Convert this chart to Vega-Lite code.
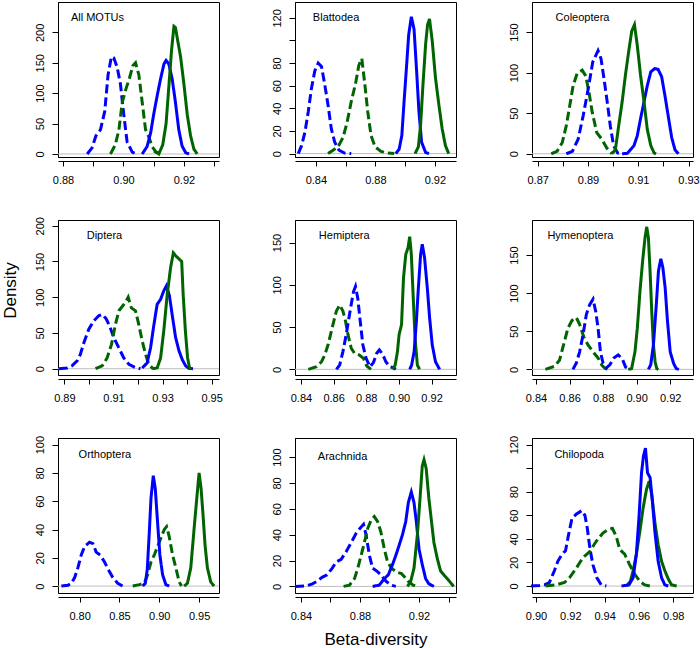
{
"$schema": "https://vega.github.io/schema/vega-lite/v6.json",
"padding": {"left": 0, "top": 1, "right": 0, "bottom": 1},
"config": {
  "font": "Liberation Sans",
  "view": {"stroke": "#000", "strokeWidth": 1},
  "axis": {"grid": false, "labelFontSize": 11, "labelColor": "#000", "tickColor": "#000", "domainColor": "#000", "titleFontSize": 17, "titleFontWeight": "normal", "titleColor": "#000", "labelOverlap": false},
  "axisX": {"offset": 4, "tickSize": 5, "labelPadding": 8, "labelFlush": false, "titlePadding": 10},
  "axisY": {"tickSize": 6, "labelPadding": 7, "labelAngle": -90, "labelAlign": "center", "labelBaseline": "bottom", "titlePadding": 15},
  "line": {"strokeCap": "butt"}
},
"datasets": {
"p1": [
{"s":"bd","x":0.888,"y":0},{"s":"bd","x":0.8896,"y":10},{"s":"bd","x":0.8909,"y":30},{"s":"bd","x":0.8924,"y":40},{"s":"bd","x":0.8938,"y":70},{"s":"bd","x":0.8949,"y":130},{"s":"bd","x":0.8960,"y":160},{"s":"bd","x":0.8968,"y":158},{"s":"bd","x":0.8979,"y":143},{"s":"bd","x":0.8990,"y":115},{"s":"bd","x":0.9001,"y":65},{"s":"bd","x":0.9012,"y":20},{"s":"bd","x":0.9029,"y":3},{"s":"bd","x":0.9045,"y":0},
{"s":"gd","x":0.8957,"y":0},{"s":"gd","x":0.8973,"y":15},{"s":"gd","x":0.8985,"y":40},{"s":"gd","x":0.8996,"y":85},{"s":"gd","x":0.9007,"y":105},{"s":"gd","x":0.9020,"y":125},{"s":"gd","x":0.9031,"y":145},{"s":"gd","x":0.9040,"y":150},{"s":"gd","x":0.9051,"y":130},{"s":"gd","x":0.9062,"y":85},{"s":"gd","x":0.9073,"y":40},{"s":"gd","x":0.9084,"y":28},{"s":"gd","x":0.9095,"y":12},{"s":"gd","x":0.9108,"y":3},{"s":"gd","x":0.9123,"y":0},
{"s":"bs","x":0.9062,"y":0},{"s":"bs","x":0.9078,"y":12},{"s":"bs","x":0.9090,"y":35},{"s":"bs","x":0.9101,"y":68},{"s":"bs","x":0.9112,"y":97},{"s":"bs","x":0.9123,"y":124},{"s":"bs","x":0.9134,"y":148},{"s":"bs","x":0.9141,"y":154},{"s":"bs","x":0.9150,"y":148},{"s":"bs","x":0.9161,"y":124},{"s":"bs","x":0.9172,"y":85},{"s":"bs","x":0.9183,"y":40},{"s":"bs","x":0.9194,"y":13},{"s":"bs","x":0.9206,"y":2},{"s":"bs","x":0.9217,"y":0},
{"s":"gs","x":0.9101,"y":5},{"s":"gs","x":0.9117,"y":0},{"s":"gs","x":0.9130,"y":15},{"s":"gs","x":0.9141,"y":50},{"s":"gs","x":0.9150,"y":110},{"s":"gs","x":0.9159,"y":170},{"s":"gs","x":0.9167,"y":210},{"s":"gs","x":0.9172,"y":208},{"s":"gs","x":0.9180,"y":185},{"s":"gs","x":0.9189,"y":160},{"s":"gs","x":0.9200,"y":115},{"s":"gs","x":0.9211,"y":65},{"s":"gs","x":0.9222,"y":30},{"s":"gs","x":0.9233,"y":8},{"s":"gs","x":0.9244,"y":0}
],
"p2": [
{"s":"bd","x":0.8282,"y":0},{"s":"bd","x":0.8304,"y":7},{"s":"bd","x":0.8327,"y":19},{"s":"bd","x":0.8349,"y":37},{"s":"bd","x":0.8371,"y":58},{"s":"bd","x":0.8393,"y":73},{"s":"bd","x":0.8416,"y":80},{"s":"bd","x":0.8438,"y":77},{"s":"bd","x":0.8460,"y":61},{"s":"bd","x":0.8482,"y":43},{"s":"bd","x":0.8504,"y":22},{"s":"bd","x":0.8527,"y":10},{"s":"bd","x":0.8556,"y":3},{"s":"bd","x":0.8593,"y":0.5},{"s":"bd","x":0.8638,"y":0},
{"s":"gd","x":0.8482,"y":0},{"s":"gd","x":0.8516,"y":3},{"s":"gd","x":0.8549,"y":6},{"s":"gd","x":0.8582,"y":14},{"s":"gd","x":0.8609,"y":27},{"s":"gd","x":0.8638,"y":46},{"s":"gd","x":0.8667,"y":62},{"s":"gd","x":0.8689,"y":78},{"s":"gd","x":0.8709,"y":84},{"s":"gd","x":0.8727,"y":64},{"s":"gd","x":0.8749,"y":37},{"s":"gd","x":0.8771,"y":16},{"s":"gd","x":0.8798,"y":6},{"s":"gd","x":0.8838,"y":2},{"s":"gd","x":0.8882,"y":0.5},{"s":"gd","x":0.8927,"y":0},
{"s":"bs","x":0.8938,"y":0},{"s":"bs","x":0.8960,"y":4},{"s":"bs","x":0.8978,"y":16},{"s":"bs","x":0.8993,"y":46},{"s":"bs","x":0.9009,"y":76},{"s":"bs","x":0.9024,"y":105},{"s":"bs","x":0.9042,"y":121},{"s":"bs","x":0.9060,"y":110},{"s":"bs","x":0.9076,"y":76},{"s":"bs","x":0.9093,"y":37},{"s":"bs","x":0.9111,"y":10},{"s":"bs","x":0.9138,"y":1},{"s":"bs","x":0.9160,"y":0},
{"s":"gs","x":0.9067,"y":0},{"s":"gs","x":0.9089,"y":6},{"s":"gs","x":0.9104,"y":25},{"s":"gs","x":0.9120,"y":61},{"s":"gs","x":0.9138,"y":97},{"s":"gs","x":0.9151,"y":114},{"s":"gs","x":0.9164,"y":119},{"s":"gs","x":0.9182,"y":100},{"s":"gs","x":0.9204,"y":67},{"s":"gs","x":0.9227,"y":43},{"s":"gs","x":0.9249,"y":22},{"s":"gs","x":0.9271,"y":7},{"s":"gs","x":0.9293,"y":0}
],
"p3": [
{"s":"gd","x":0.8754,"y":0},{"s":"gd","x":0.8777,"y":3},{"s":"gd","x":0.8798,"y":14},{"s":"gd","x":0.8814,"y":35},{"s":"gd","x":0.8828,"y":60},{"s":"gd","x":0.8841,"y":84},{"s":"gd","x":0.8857,"y":99},{"s":"gd","x":0.8877,"y":103},{"s":"gd","x":0.8891,"y":96},{"s":"gd","x":0.8904,"y":76},{"s":"gd","x":0.8917,"y":51},{"s":"gd","x":0.8935,"y":26},{"s":"gd","x":0.8955,"y":18},{"s":"gd","x":0.8975,"y":7},{"s":"gd","x":0.8995,"y":0},
{"s":"bd","x":0.8814,"y":0},{"s":"bd","x":0.8838,"y":3},{"s":"bd","x":0.8861,"y":18},{"s":"bd","x":0.8881,"y":47},{"s":"bd","x":0.8901,"y":80},{"s":"bd","x":0.8919,"y":113},{"s":"bd","x":0.8940,"y":127},{"s":"bd","x":0.8952,"y":117},{"s":"bd","x":0.8964,"y":92},{"s":"bd","x":0.8977,"y":63},{"s":"bd","x":0.8989,"y":34},{"s":"bd","x":0.9002,"y":10},{"s":"bd","x":0.9018,"y":1},{"s":"bd","x":0.9036,"y":0},
{"s":"bs","x":0.9036,"y":0},{"s":"bs","x":0.9056,"y":0.5},{"s":"bs","x":0.9069,"y":5},{"s":"bs","x":0.9083,"y":10},{"s":"bs","x":0.9096,"y":22},{"s":"bs","x":0.9109,"y":43},{"s":"bs","x":0.9123,"y":64},{"s":"bs","x":0.9136,"y":84},{"s":"bs","x":0.9150,"y":101},{"s":"bs","x":0.9166,"y":105},{"s":"bs","x":0.9179,"y":104},{"s":"bs","x":0.9193,"y":95},{"s":"bs","x":0.9206,"y":72},{"s":"bs","x":0.9220,"y":45},{"s":"bs","x":0.9233,"y":20},{"s":"bs","x":0.9246,"y":5},{"s":"bs","x":0.9260,"y":0},
{"s":"gs","x":0.8995,"y":0},{"s":"gs","x":0.9009,"y":5},{"s":"gs","x":0.9022,"y":34},{"s":"gs","x":0.9036,"y":64},{"s":"gs","x":0.9049,"y":97},{"s":"gs","x":0.9062,"y":126},{"s":"gs","x":0.9074,"y":151},{"s":"gs","x":0.9085,"y":159},{"s":"gs","x":0.9096,"y":134},{"s":"gs","x":0.9109,"y":97},{"s":"gs","x":0.9123,"y":64},{"s":"gs","x":0.9136,"y":30},{"s":"gs","x":0.9150,"y":10},{"s":"gs","x":0.9163,"y":1},{"s":"gs","x":0.9171,"y":0}
],
"p4": [
{"s":"bd","x":0.8877,"y":0},{"s":"bd","x":0.8911,"y":1},{"s":"bd","x":0.8931,"y":4},{"s":"bd","x":0.8952,"y":11},{"s":"bd","x":0.8965,"y":20},{"s":"bd","x":0.8979,"y":36},{"s":"bd","x":0.8999,"y":55},{"s":"bd","x":0.9020,"y":67},{"s":"bd","x":0.9040,"y":74},{"s":"bd","x":0.9054,"y":76},{"s":"bd","x":0.9070,"y":70},{"s":"bd","x":0.9084,"y":60},{"s":"bd","x":0.9101,"y":44},{"s":"bd","x":0.9122,"y":29},{"s":"bd","x":0.9142,"y":15},{"s":"bd","x":0.9163,"y":6},{"s":"bd","x":0.9187,"y":2},{"s":"bd","x":0.9210,"y":0},
{"s":"gd","x":0.9027,"y":0},{"s":"gd","x":0.9054,"y":4},{"s":"gd","x":0.9074,"y":15},{"s":"gd","x":0.9092,"y":34},{"s":"gd","x":0.9108,"y":62},{"s":"gd","x":0.9122,"y":81},{"s":"gd","x":0.9138,"y":88},{"s":"gd","x":0.9149,"y":93},{"s":"gd","x":0.9160,"y":100},{"s":"gd","x":0.9173,"y":85},{"s":"gd","x":0.9190,"y":81},{"s":"gd","x":0.9203,"y":62},{"s":"gd","x":0.9217,"y":39},{"s":"gd","x":0.9231,"y":20},{"s":"gd","x":0.9244,"y":6},{"s":"gd","x":0.9261,"y":0},
{"s":"bs","x":0.9217,"y":1},{"s":"bs","x":0.9237,"y":8},{"s":"bs","x":0.9251,"y":29},{"s":"bs","x":0.9265,"y":62},{"s":"bs","x":0.9278,"y":90},{"s":"bs","x":0.9292,"y":97},{"s":"bs","x":0.9305,"y":109},{"s":"bs","x":0.9316,"y":116},{"s":"bs","x":0.9328,"y":102},{"s":"bs","x":0.9339,"y":76},{"s":"bs","x":0.9353,"y":44},{"s":"bs","x":0.9367,"y":25},{"s":"bs","x":0.9380,"y":13},{"s":"bs","x":0.9394,"y":4},{"s":"bs","x":0.9407,"y":0.5},{"s":"bs","x":0.9424,"y":0},
{"s":"gs","x":0.9258,"y":0},{"s":"gs","x":0.9278,"y":1},{"s":"gs","x":0.9292,"y":15},{"s":"gs","x":0.9305,"y":53},{"s":"gs","x":0.9319,"y":104},{"s":"gs","x":0.9333,"y":142},{"s":"gs","x":0.9344,"y":162},{"s":"gs","x":0.9356,"y":157},{"s":"gs","x":0.9369,"y":153},{"s":"gs","x":0.9378,"y":150},{"s":"gs","x":0.9384,"y":104},{"s":"gs","x":0.9393,"y":53},{"s":"gs","x":0.9402,"y":15},{"s":"gs","x":0.9410,"y":1},{"s":"gs","x":0.9418,"y":0}
],
"p5": [
{"s":"gd","x":0.8445,"y":0},{"s":"gd","x":0.8495,"y":3},{"s":"gd","x":0.8526,"y":9},{"s":"gd","x":0.8546,"y":17},{"s":"gd","x":0.8566,"y":29},{"s":"gd","x":0.8596,"y":53},{"s":"gd","x":0.8617,"y":69},{"s":"gd","x":0.8637,"y":76},{"s":"gd","x":0.8657,"y":69},{"s":"gd","x":0.8673,"y":57},{"s":"gd","x":0.8688,"y":41},{"s":"gd","x":0.8708,"y":25},{"s":"gd","x":0.8728,"y":19},{"s":"gd","x":0.8758,"y":17},{"s":"gd","x":0.8783,"y":13},{"s":"gd","x":0.8803,"y":4},{"s":"gd","x":0.8829,"y":0},
{"s":"bd","x":0.8617,"y":0},{"s":"bd","x":0.8637,"y":5},{"s":"bd","x":0.8657,"y":21},{"s":"bd","x":0.8677,"y":41},{"s":"bd","x":0.8694,"y":61},{"s":"bd","x":0.8708,"y":77},{"s":"bd","x":0.8722,"y":92},{"s":"bd","x":0.8734,"y":98},{"s":"bd","x":0.8748,"y":84},{"s":"bd","x":0.8763,"y":57},{"s":"bd","x":0.8779,"y":29},{"s":"bd","x":0.8799,"y":13},{"s":"bd","x":0.8823,"y":3},{"s":"bd","x":0.8844,"y":8},{"s":"bd","x":0.8864,"y":19},{"s":"bd","x":0.8880,"y":23},{"s":"bd","x":0.8900,"y":18},{"s":"bd","x":0.8920,"y":9},{"s":"bd","x":0.8945,"y":3},{"s":"bd","x":0.8965,"y":2},{"s":"bd","x":0.8981,"y":0},
{"s":"gs","x":0.8961,"y":0},{"s":"gs","x":0.8977,"y":5},{"s":"gs","x":0.8991,"y":21},{"s":"gs","x":0.9001,"y":41},{"s":"gs","x":0.9016,"y":53},{"s":"gs","x":0.9028,"y":108},{"s":"gs","x":0.9042,"y":136},{"s":"gs","x":0.9056,"y":144},{"s":"gs","x":0.9066,"y":157},{"s":"gs","x":0.9076,"y":136},{"s":"gs","x":0.9087,"y":88},{"s":"gs","x":0.9099,"y":37},{"s":"gs","x":0.9113,"y":5},{"s":"gs","x":0.9127,"y":0},
{"s":"bs","x":0.9066,"y":0},{"s":"bs","x":0.9078,"y":5},{"s":"bs","x":0.9093,"y":21},{"s":"bs","x":0.9107,"y":57},{"s":"bs","x":0.9119,"y":96},{"s":"bs","x":0.9133,"y":136},{"s":"bs","x":0.9143,"y":148},{"s":"bs","x":0.9157,"y":132},{"s":"bs","x":0.9174,"y":96},{"s":"bs","x":0.9188,"y":61},{"s":"bs","x":0.9204,"y":29},{"s":"bs","x":0.9224,"y":9},{"s":"bs","x":0.9249,"y":0}
],
"p6": [
{"s":"gd","x":0.8456,"y":0},{"s":"gd","x":0.8510,"y":4},{"s":"gd","x":0.8540,"y":12},{"s":"gd","x":0.8564,"y":32},{"s":"gd","x":0.8590,"y":54},{"s":"gd","x":0.8614,"y":64},{"s":"gd","x":0.8640,"y":68},{"s":"gd","x":0.8660,"y":59},{"s":"gd","x":0.8684,"y":43},{"s":"gd","x":0.8710,"y":32},{"s":"gd","x":0.8740,"y":23},{"s":"gd","x":0.8770,"y":15},{"s":"gd","x":0.8794,"y":5},{"s":"gd","x":0.8814,"y":1},{"s":"gd","x":0.8836,"y":0},
{"s":"bd","x":0.8620,"y":0},{"s":"bd","x":0.8640,"y":8},{"s":"bd","x":0.8660,"y":23},{"s":"bd","x":0.8680,"y":45},{"s":"bd","x":0.8700,"y":72},{"s":"bd","x":0.8720,"y":85},{"s":"bd","x":0.8740,"y":92},{"s":"bd","x":0.8756,"y":76},{"s":"bd","x":0.8770,"y":54},{"s":"bd","x":0.8784,"y":23},{"s":"bd","x":0.8800,"y":8},{"s":"bd","x":0.8820,"y":2},{"s":"bd","x":0.8840,"y":6},{"s":"bd","x":0.8864,"y":15},{"s":"bd","x":0.8890,"y":19},{"s":"bd","x":0.8914,"y":14},{"s":"bd","x":0.8934,"y":3},{"s":"bd","x":0.8960,"y":0},
{"s":"gs","x":0.8950,"y":0},{"s":"gs","x":0.8970,"y":1},{"s":"gs","x":0.8990,"y":23},{"s":"gs","x":0.9004,"y":54},{"s":"gs","x":0.9020,"y":103},{"s":"gs","x":0.9036,"y":143},{"s":"gs","x":0.9050,"y":173},{"s":"gs","x":0.9060,"y":187},{"s":"gs","x":0.9070,"y":173},{"s":"gs","x":0.9080,"y":129},{"s":"gs","x":0.9090,"y":76},{"s":"gs","x":0.9100,"y":32},{"s":"gs","x":0.9110,"y":10},{"s":"gs","x":0.9120,"y":1},{"s":"gs","x":0.9130,"y":0},
{"s":"bs","x":0.9070,"y":0},{"s":"bs","x":0.9084,"y":6},{"s":"bs","x":0.9100,"y":32},{"s":"bs","x":0.9116,"y":81},{"s":"bs","x":0.9130,"y":129},{"s":"bs","x":0.9144,"y":145},{"s":"bs","x":0.9156,"y":134},{"s":"bs","x":0.9170,"y":107},{"s":"bs","x":0.9184,"y":63},{"s":"bs","x":0.9200,"y":23},{"s":"bs","x":0.9220,"y":8},{"s":"bs","x":0.9236,"y":1},{"s":"bs","x":0.9252,"y":0}
],
"p7": [
{"s":"bd","x":0.7771,"y":0},{"s":"bd","x":0.7854,"y":0.5},{"s":"bd","x":0.7896,"y":2},{"s":"bd","x":0.7938,"y":6},{"s":"bd","x":0.7979,"y":13},{"s":"bd","x":0.8021,"y":22},{"s":"bd","x":0.8063,"y":28},{"s":"bd","x":0.8125,"y":31},{"s":"bd","x":0.8167,"y":30},{"s":"bd","x":0.8208,"y":24},{"s":"bd","x":0.8258,"y":22},{"s":"bd","x":0.8313,"y":17},{"s":"bd","x":0.8367,"y":11},{"s":"bd","x":0.8417,"y":6},{"s":"bd","x":0.8479,"y":2},{"s":"bd","x":0.8542,"y":0},
{"s":"gd","x":0.8667,"y":0},{"s":"gd","x":0.8750,"y":1},{"s":"gd","x":0.8813,"y":2},{"s":"gd","x":0.8854,"y":8},{"s":"gd","x":0.8896,"y":17},{"s":"gd","x":0.8938,"y":22},{"s":"gd","x":0.8979,"y":28},{"s":"gd","x":0.9021,"y":34},{"s":"gd","x":0.9063,"y":40},{"s":"gd","x":0.9092,"y":42},{"s":"gd","x":0.9125,"y":35},{"s":"gd","x":0.9167,"y":22},{"s":"gd","x":0.9208,"y":13},{"s":"gd","x":0.9250,"y":3},{"s":"gd","x":0.9279,"y":0},
{"s":"bs","x":0.8792,"y":0},{"s":"bs","x":0.8825,"y":2},{"s":"bs","x":0.8850,"y":12},{"s":"bs","x":0.8875,"y":38},{"s":"bs","x":0.8896,"y":62},{"s":"bs","x":0.8925,"y":78},{"s":"bs","x":0.8950,"y":69},{"s":"bs","x":0.8979,"y":45},{"s":"bs","x":0.9008,"y":22},{"s":"bs","x":0.9042,"y":8},{"s":"bs","x":0.9083,"y":1},{"s":"bs","x":0.9125,"y":0},
{"s":"gs","x":0.9313,"y":0},{"s":"gs","x":0.9354,"y":2},{"s":"gs","x":0.9396,"y":13},{"s":"gs","x":0.9438,"y":41},{"s":"gs","x":0.9471,"y":62},{"s":"gs","x":0.9500,"y":80},{"s":"gs","x":0.9525,"y":69},{"s":"gs","x":0.9550,"y":50},{"s":"gs","x":0.9575,"y":29},{"s":"gs","x":0.9604,"y":13},{"s":"gs","x":0.9646,"y":3},{"s":"gs","x":0.9688,"y":0}
],
"p8": [
{"s":"bd","x":0.8360,"y":0},{"s":"bd","x":0.8438,"y":0.5},{"s":"bd","x":0.8478,"y":2},{"s":"bd","x":0.8510,"y":4},{"s":"bd","x":0.8543,"y":7},{"s":"bd","x":0.8577,"y":9},{"s":"bd","x":0.8611,"y":14},{"s":"bd","x":0.8640,"y":19},{"s":"bd","x":0.8673,"y":21},{"s":"bd","x":0.8707,"y":27},{"s":"bd","x":0.8741,"y":34},{"s":"bd","x":0.8774,"y":41},{"s":"bd","x":0.8801,"y":45},{"s":"bd","x":0.8824,"y":48},{"s":"bd","x":0.8841,"y":40},{"s":"bd","x":0.8864,"y":24},{"s":"bd","x":0.8886,"y":14},{"s":"bd","x":0.8913,"y":12},{"s":"bd","x":0.8942,"y":9},{"s":"bd","x":0.8976,"y":4},{"s":"bd","x":0.9010,"y":1},{"s":"bd","x":0.9043,"y":0},
{"s":"gd","x":0.8689,"y":0},{"s":"gd","x":0.8729,"y":1},{"s":"gd","x":0.8763,"y":6},{"s":"gd","x":0.8785,"y":14},{"s":"gd","x":0.8808,"y":24},{"s":"gd","x":0.8830,"y":34},{"s":"gd","x":0.8853,"y":45},{"s":"gd","x":0.8875,"y":51},{"s":"gd","x":0.8897,"y":54},{"s":"gd","x":0.8920,"y":50},{"s":"gd","x":0.8942,"y":42},{"s":"gd","x":0.8965,"y":29},{"s":"gd","x":0.8987,"y":19},{"s":"gd","x":0.9014,"y":14},{"s":"gd","x":0.9048,"y":11},{"s":"gd","x":0.9081,"y":10},{"s":"gd","x":0.9104,"y":7},{"s":"gd","x":0.9126,"y":4},{"s":"gd","x":0.9160,"y":1},{"s":"gd","x":0.9193,"y":0},
{"s":"bs","x":0.8886,"y":0},{"s":"bs","x":0.8931,"y":1},{"s":"bs","x":0.8965,"y":6},{"s":"bs","x":0.8992,"y":9},{"s":"bs","x":0.9021,"y":17},{"s":"bs","x":0.9043,"y":24},{"s":"bs","x":0.9066,"y":32},{"s":"bs","x":0.9088,"y":40},{"s":"bs","x":0.9110,"y":50},{"s":"bs","x":0.9128,"y":65},{"s":"bs","x":0.9148,"y":73},{"s":"bs","x":0.9166,"y":65},{"s":"bs","x":0.9182,"y":50},{"s":"bs","x":0.9200,"y":29},{"s":"bs","x":0.9222,"y":17},{"s":"bs","x":0.9245,"y":6},{"s":"bs","x":0.9267,"y":2},{"s":"bs","x":0.9301,"y":0},
{"s":"gs","x":0.9122,"y":0},{"s":"gs","x":0.9144,"y":4},{"s":"gs","x":0.9166,"y":14},{"s":"gs","x":0.9189,"y":40},{"s":"gs","x":0.9207,"y":68},{"s":"gs","x":0.9222,"y":93},{"s":"gs","x":0.9234,"y":98},{"s":"gs","x":0.9249,"y":91},{"s":"gs","x":0.9267,"y":68},{"s":"gs","x":0.9285,"y":50},{"s":"gs","x":0.9301,"y":34},{"s":"gs","x":0.9323,"y":22},{"s":"gs","x":0.9346,"y":12},{"s":"gs","x":0.9375,"y":8},{"s":"gs","x":0.9406,"y":4},{"s":"gs","x":0.9435,"y":0}
],
"p9": [
{"s":"bd","x":0.8971,"y":0},{"s":"bd","x":0.9020,"y":0.5},{"s":"bd","x":0.9049,"y":1},{"s":"bd","x":0.9078,"y":3},{"s":"bd","x":0.9107,"y":13},{"s":"bd","x":0.9127,"y":21},{"s":"bd","x":0.9152,"y":27},{"s":"bd","x":0.9172,"y":30},{"s":"bd","x":0.9189,"y":43},{"s":"bd","x":0.9209,"y":57},{"s":"bd","x":0.9234,"y":61},{"s":"bd","x":0.9267,"y":64},{"s":"bd","x":0.9285,"y":60},{"s":"bd","x":0.9299,"y":49},{"s":"bd","x":0.9314,"y":32},{"s":"bd","x":0.9332,"y":18},{"s":"bd","x":0.9355,"y":7},{"s":"bd","x":0.9380,"y":1},{"s":"bd","x":0.9410,"y":0},
{"s":"gd","x":0.9055,"y":0},{"s":"gd","x":0.9117,"y":1},{"s":"gd","x":0.9166,"y":3},{"s":"gd","x":0.9195,"y":7},{"s":"gd","x":0.9234,"y":15},{"s":"gd","x":0.9273,"y":24},{"s":"gd","x":0.9312,"y":29},{"s":"gd","x":0.9351,"y":38},{"s":"gd","x":0.9390,"y":45},{"s":"gd","x":0.9420,"y":48},{"s":"gd","x":0.9445,"y":49},{"s":"gd","x":0.9468,"y":42},{"s":"gd","x":0.9488,"y":31},{"s":"gd","x":0.9517,"y":27},{"s":"gd","x":0.9546,"y":18},{"s":"gd","x":0.9576,"y":10},{"s":"gd","x":0.9605,"y":4},{"s":"gd","x":0.9634,"y":1},{"s":"gd","x":0.9667,"y":0},
{"s":"gs","x":0.9527,"y":0},{"s":"gs","x":0.9550,"y":4},{"s":"gs","x":0.9566,"y":13},{"s":"gs","x":0.9585,"y":27},{"s":"gs","x":0.9605,"y":46},{"s":"gs","x":0.9624,"y":66},{"s":"gs","x":0.9644,"y":82},{"s":"gs","x":0.9660,"y":89},{"s":"gs","x":0.9675,"y":77},{"s":"gs","x":0.9693,"y":54},{"s":"gs","x":0.9712,"y":35},{"s":"gs","x":0.9732,"y":21},{"s":"gs","x":0.9751,"y":13},{"s":"gs","x":0.9771,"y":6},{"s":"gs","x":0.9790,"y":1},{"s":"gs","x":0.9820,"y":0},
{"s":"bs","x":0.9498,"y":0},{"s":"bs","x":0.9542,"y":1},{"s":"bs","x":0.9566,"y":7},{"s":"bs","x":0.9585,"y":27},{"s":"bs","x":0.9601,"y":60},{"s":"bs","x":0.9615,"y":96},{"s":"bs","x":0.9626,"y":110},{"s":"bs","x":0.9638,"y":117},{"s":"bs","x":0.9650,"y":96},{"s":"bs","x":0.9665,"y":92},{"s":"bs","x":0.9679,"y":71},{"s":"bs","x":0.9693,"y":46},{"s":"bs","x":0.9712,"y":21},{"s":"bs","x":0.9732,"y":7},{"s":"bs","x":0.9751,"y":1},{"s":"bs","x":0.9771,"y":0}
]
},
"columns": 3,
"spacing": {"row": 63, "column": 76},
"bounds": "flush",
"resolve": {"scale": {"x": "independent", "y": "independent"}},
"concat": [
{"width": 161, "height": 155, "data": {"name": "p1"}, "layer": [
  {"data": {"values": [{}]}, "mark": {"type": "rule", "color": "#BEBEBE", "strokeWidth": 1}, "encoding": {"y": {"datum": 0}}},
  {"mark": {"type": "line"}, "encoding": {
    "x": {"field": "x", "type": "quantitative", "scale": {"domain": [0.87834, 0.93161], "nice": false, "zero": false}, "axis": {"values": [0.88, 0.89, 0.90, 0.91, 0.92, 0.93], "tickCount": 50, "labelOverlap": false, "labelExpr": "round(datum.value*100)%2==0 ? format(datum.value,'.2f') : ''", "title": null}},
    "y": {"field": "y", "type": "quantitative", "scale": {"domain": [-5, 250], "nice": false, "zero": false}, "axis": {"values": [0, 50, 100, 150, 200], "tickCount": 50, "labelOverlap": false, "labelExpr": "format(datum.value,'d')", "title": null}},
    "color": {"field": "s", "type": "nominal", "scale": {"domain": ["bd", "gd", "bs", "gs"], "range": ["#0000FF", "#006400", "#0000FF", "#006400"]}, "legend": null},
    "strokeDash": {"field": "s", "type": "nominal", "scale": {"domain": ["bd", "gd", "bs", "gs"], "range": [[9, 4], [9, 4], [1, 0], [1, 0]]}, "legend": null},
    "strokeWidth": {"field": "s", "type": "nominal", "scale": {"domain": ["bd", "gd", "bs", "gs"], "range": [3, 3, 4, 4]}, "legend": null}}},
  {"data": {"values": [{}]}, "mark": {"type": "text", "align": "left", "baseline": "middle", "fontSize": 11, "text": "All MOTUs"}, "encoding": {"x": {"datum": 0.8826}, "y": {"datum": 223}}}
]},
{"width": 161, "height": 155, "data": {"name": "p2"}, "layer": [
  {"data": {"values": [{}]}, "mark": {"type": "rule", "color": "#BEBEBE", "strokeWidth": 1}, "encoding": {"y": {"datum": 0}}},
  {"mark": {"type": "line"}, "encoding": {
    "x": {"field": "x", "type": "quantitative", "scale": {"domain": [0.826, 0.9342], "nice": false, "zero": false}, "axis": {"values": [0.84, 0.86, 0.88, 0.90, 0.92], "tickCount": 50, "labelOverlap": false, "labelExpr": "round(datum.value*100)%4==0 ? format(datum.value,'.2f') : ''", "title": null}},
    "y": {"field": "y", "type": "quantitative", "scale": {"domain": [-3, 134], "nice": false, "zero": false}, "axis": {"values": [0, 20, 40, 60, 80, 100, 120], "tickCount": 50, "labelOverlap": false, "labelExpr": "datum.value==100 ? '' : format(datum.value,'d')", "title": null}},
    "color": {"field": "s", "type": "nominal", "scale": {"domain": ["bd", "gd", "bs", "gs"], "range": ["#0000FF", "#006400", "#0000FF", "#006400"]}, "legend": null},
    "strokeDash": {"field": "s", "type": "nominal", "scale": {"domain": ["bd", "gd", "bs", "gs"], "range": [[9, 4], [9, 4], [1, 0], [1, 0]]}, "legend": null},
    "strokeWidth": {"field": "s", "type": "nominal", "scale": {"domain": ["bd", "gd", "bs", "gs"], "range": [3, 3, 4, 4]}, "legend": null}}},
  {"data": {"values": [{}]}, "mark": {"type": "text", "align": "left", "baseline": "middle", "fontSize": 11, "text": "Blattodea"}, "encoding": {"x": {"datum": 0.838}, "y": {"datum": 120}}}
]},
{"width": 161, "height": 155, "data": {"name": "p3"}, "layer": [
  {"data": {"values": [{}]}, "mark": {"type": "rule", "color": "#BEBEBE", "strokeWidth": 1}, "encoding": {"y": {"datum": 0}}},
  {"mark": {"type": "line"}, "encoding": {
    "x": {"field": "x", "type": "quantitative", "scale": {"domain": [0.86774, 0.93178], "nice": false, "zero": false}, "axis": {"values": [0.87, 0.88, 0.89, 0.90, 0.91, 0.92, 0.93], "tickCount": 50, "labelOverlap": false, "labelExpr": "round(datum.value*100)%2==1 ? format(datum.value,'.2f') : ''", "title": null}},
    "y": {"field": "y", "type": "quantitative", "scale": {"domain": [-4, 187], "nice": false, "zero": false}, "axis": {"values": [0, 50, 100, 150], "tickCount": 50, "labelOverlap": false, "labelExpr": "format(datum.value,'d')", "title": null}},
    "color": {"field": "s", "type": "nominal", "scale": {"domain": ["bd", "gd", "bs", "gs"], "range": ["#0000FF", "#006400", "#0000FF", "#006400"]}, "legend": null},
    "strokeDash": {"field": "s", "type": "nominal", "scale": {"domain": ["bd", "gd", "bs", "gs"], "range": [[9, 4], [9, 4], [1, 0], [1, 0]]}, "legend": null},
    "strokeWidth": {"field": "s", "type": "nominal", "scale": {"domain": ["bd", "gd", "bs", "gs"], "range": [3, 3, 4, 4]}, "legend": null}}},
  {"data": {"values": [{}]}, "mark": {"type": "text", "align": "left", "baseline": "middle", "fontSize": 11, "text": "Coleoptera"}, "encoding": {"x": {"datum": 0.87713}, "y": {"datum": 167}}}
]},
{"width": 161, "height": 155, "data": {"name": "p4"}, "layer": [
  {"data": {"values": [{}]}, "mark": {"type": "rule", "color": "#BEBEBE", "strokeWidth": 1}, "encoding": {"y": {"datum": 0}}},
  {"mark": {"type": "line"}, "encoding": {
    "x": {"field": "x", "type": "quantitative", "scale": {"domain": [0.8874, 0.9530], "nice": false, "zero": false}, "axis": {"values": [0.89, 0.90, 0.91, 0.92, 0.93, 0.94, 0.95], "tickCount": 50, "labelOverlap": false, "labelExpr": "round(datum.value*100)%2==1 ? format(datum.value,'.2f') : ''", "title": null}},
    "y": {"field": "y", "type": "quantitative", "scale": {"domain": [-8.8, 208], "nice": false, "zero": false}, "axis": {"values": [0, 50, 100, 150, 200], "tickCount": 50, "labelOverlap": false, "labelExpr": "format(datum.value,'d')", "title": "Density", "titleY": 70}},
    "color": {"field": "s", "type": "nominal", "scale": {"domain": ["bd", "gd", "bs", "gs"], "range": ["#0000FF", "#006400", "#0000FF", "#006400"]}, "legend": null},
    "strokeDash": {"field": "s", "type": "nominal", "scale": {"domain": ["bd", "gd", "bs", "gs"], "range": [[9, 4], [9, 4], [1, 0], [1, 0]]}, "legend": null},
    "strokeWidth": {"field": "s", "type": "nominal", "scale": {"domain": ["bd", "gd", "bs", "gs"], "range": [3, 3, 4, 4]}, "legend": null}}},
  {"data": {"values": [{}]}, "mark": {"type": "text", "align": "left", "baseline": "middle", "fontSize": 11, "text": "Diptera"}, "encoding": {"x": {"datum": 0.8991}, "y": {"datum": 186}}}
]},
{"width": 161, "height": 155, "data": {"name": "p5"}, "layer": [
  {"data": {"values": [{}]}, "mark": {"type": "rule", "color": "#BEBEBE", "strokeWidth": 1}, "encoding": {"y": {"datum": 0}}},
  {"mark": {"type": "line"}, "encoding": {
    "x": {"field": "x", "type": "quantitative", "scale": {"domain": [0.83635, 0.93496], "nice": false, "zero": false}, "axis": {"values": [0.84, 0.86, 0.88, 0.90, 0.92], "tickCount": 50, "labelOverlap": false, "labelExpr": "format(datum.value,'.2f')", "title": null}},
    "y": {"field": "y", "type": "quantitative", "scale": {"domain": [-6.7, 176.7], "nice": false, "zero": false}, "axis": {"values": [0, 50, 100, 150], "tickCount": 50, "labelOverlap": false, "labelExpr": "format(datum.value,'d')", "title": null}},
    "color": {"field": "s", "type": "nominal", "scale": {"domain": ["bd", "gd", "bs", "gs"], "range": ["#0000FF", "#006400", "#0000FF", "#006400"]}, "legend": null},
    "strokeDash": {"field": "s", "type": "nominal", "scale": {"domain": ["bd", "gd", "bs", "gs"], "range": [[9, 4], [9, 4], [1, 0], [1, 0]]}, "legend": null},
    "strokeWidth": {"field": "s", "type": "nominal", "scale": {"domain": ["bd", "gd", "bs", "gs"], "range": [3, 3, 4, 4]}, "legend": null}}},
  {"data": {"values": [{}]}, "mark": {"type": "text", "align": "left", "baseline": "middle", "fontSize": 11, "text": "Hemiptera"}, "encoding": {"x": {"datum": 0.85094}, "y": {"datum": 158}}}
]},
{"width": 161, "height": 155, "data": {"name": "p6"}, "layer": [
  {"data": {"values": [{}]}, "mark": {"type": "rule", "color": "#BEBEBE", "strokeWidth": 1}, "encoding": {"y": {"datum": 0}}},
  {"mark": {"type": "line"}, "encoding": {
    "x": {"field": "x", "type": "quantitative", "scale": {"domain": [0.8376, 0.9336], "nice": false, "zero": false}, "axis": {"values": [0.84, 0.86, 0.88, 0.90, 0.92], "tickCount": 50, "labelOverlap": false, "labelExpr": "format(datum.value,'.2f')", "title": null}},
    "y": {"field": "y", "type": "quantitative", "scale": {"domain": [-7.4, 196], "nice": false, "zero": false}, "axis": {"values": [0, 50, 100, 150], "tickCount": 50, "labelOverlap": false, "labelExpr": "format(datum.value,'d')", "title": null}},
    "color": {"field": "s", "type": "nominal", "scale": {"domain": ["bd", "gd", "bs", "gs"], "range": ["#0000FF", "#006400", "#0000FF", "#006400"]}, "legend": null},
    "strokeDash": {"field": "s", "type": "nominal", "scale": {"domain": ["bd", "gd", "bs", "gs"], "range": [[9, 4], [9, 4], [1, 0], [1, 0]]}, "legend": null},
    "strokeWidth": {"field": "s", "type": "nominal", "scale": {"domain": ["bd", "gd", "bs", "gs"], "range": [3, 3, 4, 4]}, "legend": null}}},
  {"data": {"values": [{}]}, "mark": {"type": "text", "align": "left", "baseline": "middle", "fontSize": 11, "text": "Hymenoptera"}, "encoding": {"x": {"datum": 0.84678}, "y": {"datum": 175.5}}}
]},
{"width": 161, "height": 155, "data": {"name": "p7"}, "layer": [
  {"data": {"values": [{}]}, "mark": {"type": "rule", "color": "#BEBEBE", "strokeWidth": 1}, "encoding": {"y": {"datum": 0}}},
  {"mark": {"type": "line"}, "encoding": {
    "x": {"field": "x", "type": "quantitative", "scale": {"domain": [0.7729, 0.975], "nice": false, "zero": false}, "axis": {"values": [0.80, 0.85, 0.90, 0.95], "tickCount": 50, "labelOverlap": false, "labelExpr": "format(datum.value,'.2f')", "title": null}},
    "y": {"field": "y", "type": "quantitative", "scale": {"domain": [-4.9, 104.7], "nice": false, "zero": false}, "axis": {"values": [0, 20, 40, 60, 80, 100], "tickCount": 50, "labelOverlap": false, "labelExpr": "format(datum.value,'d')", "title": null}},
    "color": {"field": "s", "type": "nominal", "scale": {"domain": ["bd", "gd", "bs", "gs"], "range": ["#0000FF", "#006400", "#0000FF", "#006400"]}, "legend": null},
    "strokeDash": {"field": "s", "type": "nominal", "scale": {"domain": ["bd", "gd", "bs", "gs"], "range": [[9, 4], [9, 4], [1, 0], [1, 0]]}, "legend": null},
    "strokeWidth": {"field": "s", "type": "nominal", "scale": {"domain": ["bd", "gd", "bs", "gs"], "range": [3, 3, 4, 4]}, "legend": null}}},
  {"data": {"values": [{}]}, "mark": {"type": "text", "align": "left", "baseline": "middle", "fontSize": 11, "text": "Orthoptera"}, "encoding": {"x": {"datum": 0.79875}, "y": {"datum": 92.8}}}
]},
{"width": 161, "height": 155, "data": {"name": "p8"}, "layer": [
  {"data": {"values": [{}]}, "mark": {"type": "rule", "color": "#BEBEBE", "strokeWidth": 1}, "encoding": {"y": {"datum": 0}}},
  {"mark": {"type": "line"}, "encoding": {
    "x": {"field": "x", "type": "quantitative", "scale": {"domain": [0.83597, 0.94508], "nice": false, "zero": false}, "axis": {"values": [0.84, 0.86, 0.88, 0.90, 0.92, 0.94], "tickCount": 50, "labelOverlap": false, "labelExpr": "round(datum.value*100)%4==0 ? format(datum.value,'.2f') : ''", "title": "Beta-diversity"}},
    "y": {"field": "y", "type": "quantitative", "scale": {"domain": [-5.1, 114.8], "nice": false, "zero": false}, "axis": {"values": [0, 20, 40, 60, 80, 100], "tickCount": 50, "labelOverlap": false, "labelExpr": "format(datum.value,'d')", "title": null}},
    "color": {"field": "s", "type": "nominal", "scale": {"domain": ["bd", "gd", "bs", "gs"], "range": ["#0000FF", "#006400", "#0000FF", "#006400"]}, "legend": null},
    "strokeDash": {"field": "s", "type": "nominal", "scale": {"domain": ["bd", "gd", "bs", "gs"], "range": [[9, 4], [9, 4], [1, 0], [1, 0]]}, "legend": null},
    "strokeWidth": {"field": "s", "type": "nominal", "scale": {"domain": ["bd", "gd", "bs", "gs"], "range": [3, 3, 4, 4]}, "legend": null}}},
  {"data": {"values": [{}]}, "mark": {"type": "text", "align": "left", "baseline": "middle", "fontSize": 11, "text": "Arachnida"}, "encoding": {"x": {"datum": 0.85143}, "y": {"datum": 100.2}}}
]},
{"width": 161, "height": 155, "data": {"name": "p9"}, "layer": [
  {"data": {"values": [{}]}, "mark": {"type": "rule", "color": "#BEBEBE", "strokeWidth": 1}, "encoding": {"y": {"datum": 0}}},
  {"mark": {"type": "line"}, "encoding": {
    "x": {"field": "x", "type": "quantitative", "scale": {"domain": [0.89766, 0.99151], "nice": false, "zero": false}, "axis": {"values": [0.90, 0.92, 0.94, 0.96, 0.98], "tickCount": 50, "labelOverlap": false, "labelExpr": "format(datum.value,'.2f')", "title": null}},
    "y": {"field": "y", "type": "quantitative", "scale": {"domain": [-5.9, 125.6], "nice": false, "zero": false}, "axis": {"values": [0, 20, 40, 60, 80, 100, 120], "tickCount": 50, "labelOverlap": false, "labelExpr": "datum.value==100 ? '' : format(datum.value,'d')", "title": null}},
    "color": {"field": "s", "type": "nominal", "scale": {"domain": ["bd", "gd", "bs", "gs"], "range": ["#0000FF", "#006400", "#0000FF", "#006400"]}, "legend": null},
    "strokeDash": {"field": "s", "type": "nominal", "scale": {"domain": ["bd", "gd", "bs", "gs"], "range": [[9, 4], [9, 4], [1, 0], [1, 0]]}, "legend": null},
    "strokeWidth": {"field": "s", "type": "nominal", "scale": {"domain": ["bd", "gd", "bs", "gs"], "range": [3, 3, 4, 4]}, "legend": null}}},
  {"data": {"values": [{}]}, "mark": {"type": "text", "align": "left", "baseline": "middle", "fontSize": 11, "text": "Chilopoda"}, "encoding": {"x": {"datum": 0.91071}, "y": {"datum": 111.4}}}
]}
]
}
